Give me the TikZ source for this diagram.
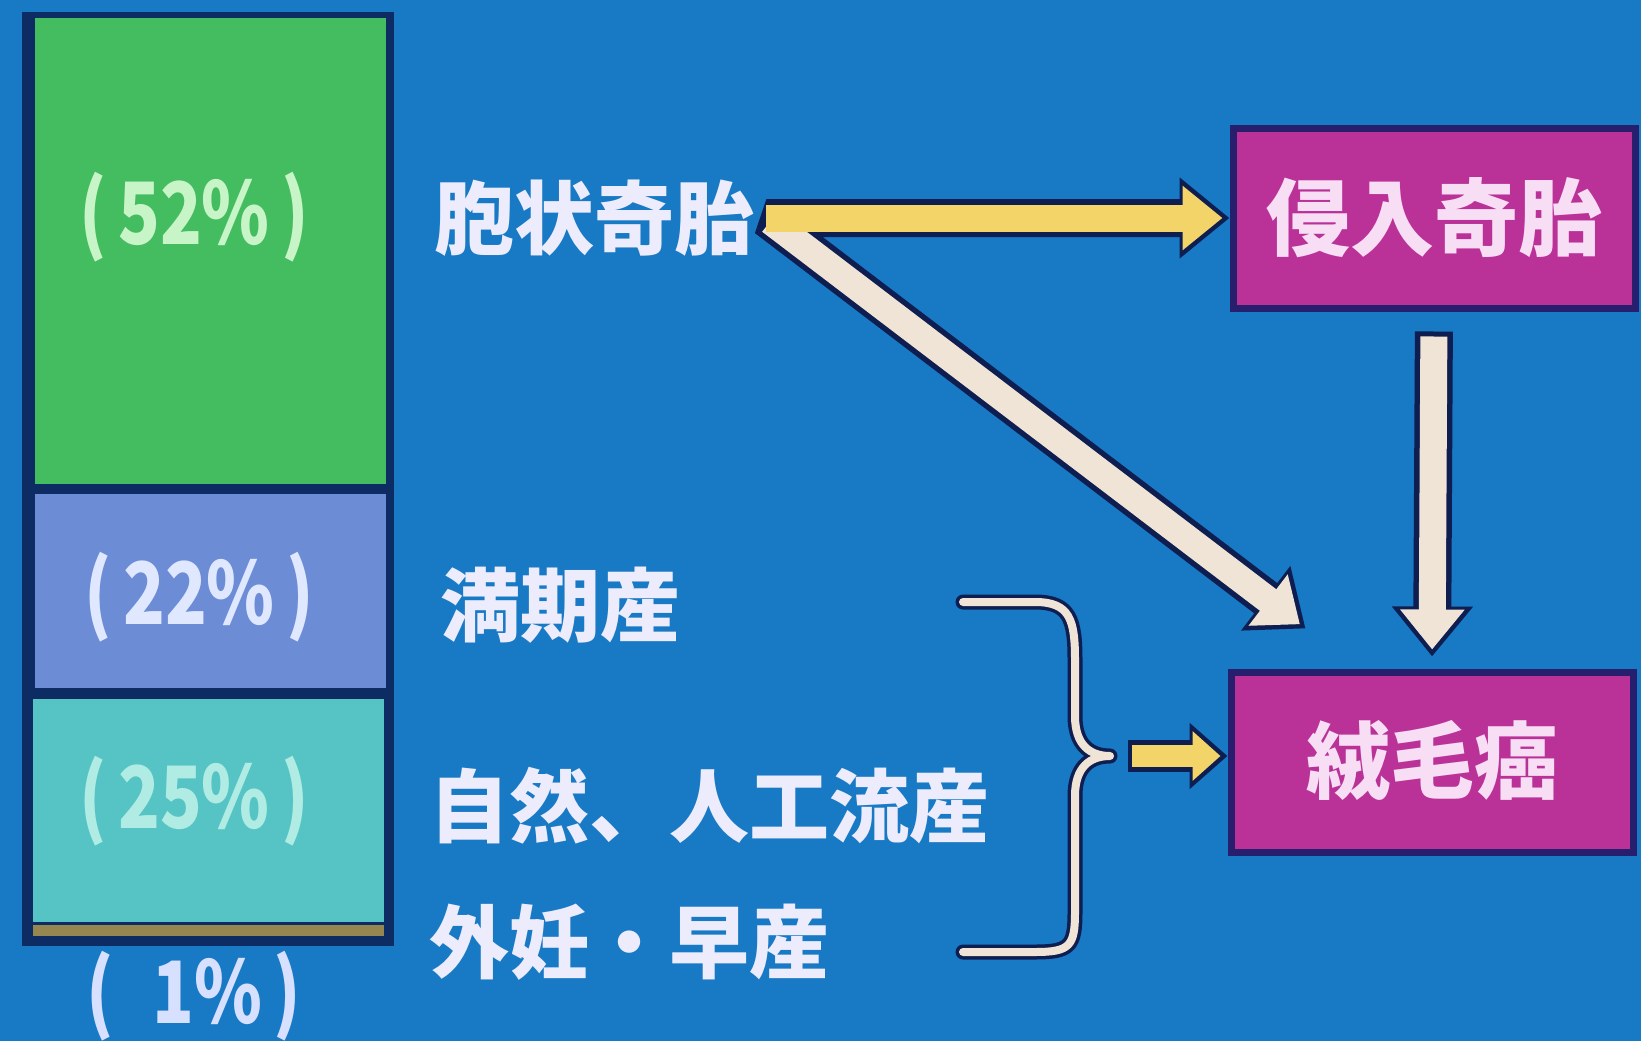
\documentclass[tikz,border=0pt]{standalone}
\usepackage{fontspec}
\newfontfamily\cjk{Noto Sans CJK JP}
\usetikzlibrary{arrows.meta,calc}
\definecolor{bg}{RGB}{24,121,197}
\definecolor{barline}{RGB}{14,44,100}
\definecolor{grn}{RGB}{68,189,96}
\definecolor{blu}{RGB}{108,140,214}
\definecolor{tea}{RGB}{86,196,196}
\definecolor{olv}{RGB}{150,135,80}
\definecolor{mag}{RGB}{186,50,152}
\definecolor{boxline}{RGB}{40,30,110}
\definecolor{dk}{RGB}{14,30,80}
\definecolor{yel}{RGB}{242,212,104}
\definecolor{pale}{RGB}{240,228,214}
\definecolor{txt}{RGB}{236,236,252}
\definecolor{boxtxt}{RGB}{248,222,244}
\begin{document}
\begin{tikzpicture}[x=1pt,y=-1pt,
  lbl/.style={font=\cjk\bfseries\fontsize{80}{80}\selectfont, text=txt, inner sep=0pt, anchor=west},
  pct/.style={font=\cjk\bfseries\fontsize{86}{86}\selectfont, inner sep=0pt},
  boxnode/.style={draw=boxline, line width=7pt, fill=mag, minimum width=402pt, minimum height=180pt, inner sep=0pt, font=\cjk\bfseries\fontsize{84}{84}\selectfont, text=boxtxt},
  outerarrow/.style={draw=dk, line width=38pt, -{Triangle[length=50pt,width=78pt]}},
  innerarrow/.style={line width=27pt, shorten <=5pt, -{Triangle[length=40pt,width=62pt]}},
  bracestroke/.style={line width=#1, line cap=round, line join=round}
]
\useasboundingbox (0,0) rectangle (1641,1041);
\fill[bg] (0,0) rectangle (1641,1041);

% stacked bar
\fill[barline] (22,12) rectangle (394,946);
\fill[grn] (35,18) rectangle (386,484);
\fill[blu] (35,494) rectangle (386,688);
\fill[tea] (33,699) rectangle (384,922);
\fill[olv] (33,925) rectangle (384,936);

\node[pct, text={rgb,255:red,200;green,245;blue,200}] (p52) at (194,217) {\scalebox{0.8}[1]{(\,52\%\,)}};
\node[pct, text={rgb,255:red,224;green,232;blue,255}] (p22) at (199,597) {\scalebox{0.8}[1]{(\,22\%\,)}};
\node[pct, text={rgb,255:red,176;green,236;blue,228}] (p25) at (194,801) {\scalebox{0.8}[1]{(\,25\%\,)}};
\node[pct, text={rgb,255:red,216;green,224;blue,255}] (p1) at (194,996) {\scalebox{0.8}[1]{(\hspace{0.55em}1\%\,)}};

% labels
\node[lbl] (hq) at (434,218) {胞状奇胎};
\node[lbl] (mk) at (440,605) {満期産};
\node[lbl] (sz) at (429,806) {自然、人工流産};
\node[lbl] (gn) at (429,942) {外妊・早産};

% boxes
\node[boxnode] (ib) at (1434,218) {侵入奇胎};
\node[boxnode] (ch) at (1432,762) {絨毛癌};

% connectors
\coordinate (fork) at ($(hq.east)+(12,0)$);
\coordinate (dtip) at ($(ch.north west)+(78,-40)$);
\coordinate (bt) at (1110,756);

% combined outline of horizontal + diagonal arrows
\draw[draw=dk, line width=38pt, line join=bevel, {Triangle[length=50pt,width=78pt]}-{Triangle[length=50pt,width=78pt]}] (ib.west) -- (fork) -- (dtip);
\draw[innerarrow, draw=pale, fill=pale] (fork) -- ($(dtip)!7pt!(fork)$);
\draw[innerarrow, draw=yel, fill=yel, shorten <=0pt] (fork) -- ($(ib.west)+(-7,0)$);
% vertical arrow
\draw[outerarrow, shorten <=20pt, shorten >=12pt] (ib.south) -- (ch.north);
\draw[innerarrow, draw=pale, fill=pale, shorten <=25pt, shorten >=19pt] (ib.south) -- (ch.north);

% brace
\draw[bracestroke=15pt, draw=dk] (963,602) -- (1035,602) .. controls (1070,602) and (1075,620) .. (1075,660) -- (1075,716) .. controls (1075,745) and (1090,756) .. (bt) .. controls (1090,756) and (1075,767) .. (1075,796) -- (1075,912) .. controls (1075,946) and (1070,952) .. (1035,952) -- (963,952);
\draw[bracestroke=8pt, draw=pale] (963,602) -- (1035,602) .. controls (1070,602) and (1075,620) .. (1075,660) -- (1075,716) .. controls (1075,745) and (1090,756) .. (bt) .. controls (1090,756) and (1075,767) .. (1075,796) -- (1075,912) .. controls (1075,946) and (1070,952) .. (1035,952) -- (963,952);

% small arrow
\draw[draw=dk, line width=32pt, -{Triangle[length=38pt,width=64pt]}, shorten <=18pt] (bt) -- (bt -| ch.west);
\draw[line width=22pt, draw=yel, fill=yel, -{Triangle[length=28pt,width=48pt]}, shorten <=22pt, shorten >=7pt] (bt) -- (bt -| ch.west);
\end{tikzpicture}
\end{document}
